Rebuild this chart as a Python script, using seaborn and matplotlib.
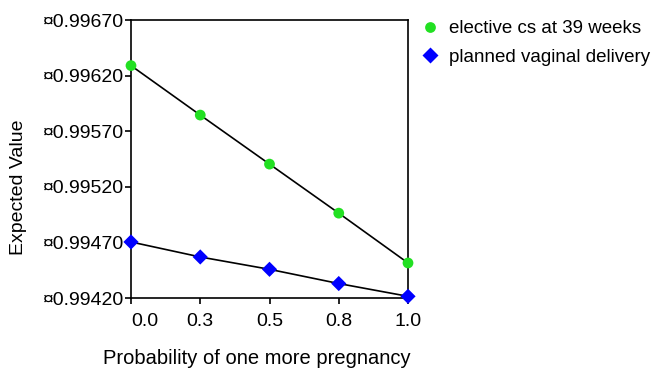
import pandas as pd
import matplotlib
matplotlib.use('Agg')
import matplotlib.pyplot as plt
import seaborn as sns

# Values
prob = [0.0, 0.25, 0.5, 0.75, 1.0]
prob_labels = ['0.0', '0.3', '0.5', '0.8', '1.0']
elective_cs = [0.99629, 0.995845, 0.995404, 0.994963, 0.994515]
vaginal = [0.994704, 0.994569, 0.994458, 0.99433, 0.994215]
y_ticks = [0.99420, 0.99470, 0.99520, 0.99570, 0.99620, 0.99670]

strategies = ['elective cs at 39 weeks', 'planned vaginal delivery']

df = pd.DataFrame({
    'prob': prob * 2,
    'value': elective_cs + vaginal,
    'strategy': [strategies[0]] * len(prob) + [strategies[1]] * len(prob),
})

sns.set_style('white')
plt.rcParams['font.family'] = ['Liberation Sans', 'DejaVu Sans']
plt.rcParams['text.color'] = 'black'
plt.rcParams['axes.labelcolor'] = 'black'

fig = plt.figure(figsize=(6.57, 3.70), dpi=100)
ax = fig.add_axes([131 / 657, 1 - 298 / 370, 277 / 657, 278 / 370])

# black connecting lines
sns.lineplot(data=df, x='prob', y='value', units='strategy', estimator=None,
             color='black', linewidth=1.2, legend=False, ax=ax, zorder=2)

# coloured markers
sns.scatterplot(data=df, x='prob', y='value', hue='strategy', style='strategy',
                palette={strategies[0]: '#22e022', strategies[1]: '#0000ff'},
                markers={strategies[0]: 'o', strategies[1]: 'D'},
                s=60, edgecolor='none', ax=ax, zorder=3, clip_on=False)

ax.set_xlim(0, 1)
ax.set_ylim(y_ticks[0], y_ticks[-1])
ax.set_xticks(prob)
ax.set_xticklabels(prob_labels)
ax.set_yticks(y_ticks)
ax.set_yticklabels([f'¤{v:.5f}' for v in y_ticks])
ax.get_xticklabels()[0].set_horizontalalignment('left')

ax.tick_params(axis='both', which='major', direction='out', length=4.5, width=1.2,
               labelsize=14, colors='black', left=True, bottom=True, pad=0.5)
ax.tick_params(axis='x', pad=6)
for spine in ax.spines.values():
    spine.set_color('black')
    spine.set_linewidth(1.2)

ax.set_xlabel('Probability of one more pregnancy', fontsize=14.5)
ax.xaxis.set_label_coords((257 - 131) / 277, -0.185)
ax.set_ylabel('Expected Value', fontsize=14)
ax.yaxis.set_label_coords(-0.375, 0.40)

leg = ax.legend(loc='upper left', bbox_to_anchor=(421 / 657, 1 - 20 / 370),
                bbox_transform=fig.transFigure, frameon=False, fontsize=13.5,
                handlelength=1.0, handletextpad=0.5, labelspacing=0.6,
                borderpad=0, borderaxespad=0, title=None)
for t in leg.get_texts():
    t.set_color('black')

fig.savefig('out.png', dpi=100)
plt.close(fig)
